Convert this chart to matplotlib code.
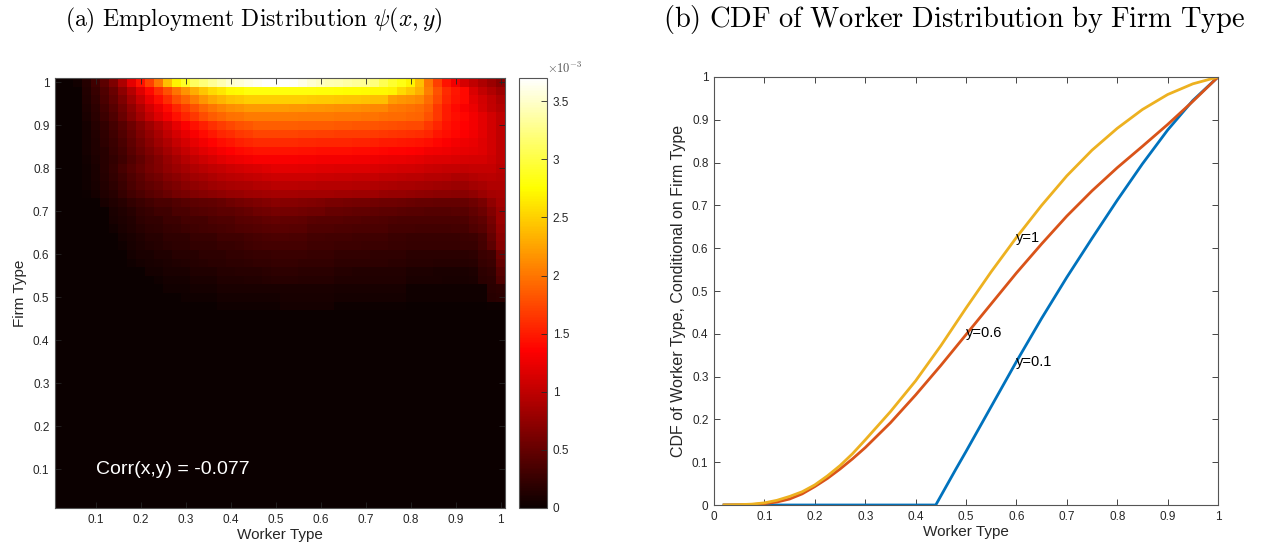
import numpy as np
import matplotlib
matplotlib.use('Agg')
import matplotlib.pyplot as plt

plt.rcParams['font.family'] = ['Liberation Sans', 'DejaVu Sans']
plt.rcParams['mathtext.fontset'] = 'cm'

# ---- panel (a): employment distribution, 50x50 grid ----
worker_type = np.round(np.arange(1, 51) * 0.02, 2)
firm_type = np.round(np.arange(1, 51) * 0.02, 2)

# psi(x,y) in units of 1e-5, rows from firm type 1.0 (top) downwards, columns worker 0.02 -> 1.0
psi_e5 = [
    [0, 0, 5, 15, 30, 45, 65, 90, 120, 145, 170, 200, 240, 270, 290, 310, 320, 330, 340, 350, 355, 360, 365, 370, 370, 370, 368, 360, 352, 346, 342, 340, 336, 332, 330, 322, 305, 292, 282, 270, 240, 200, 170, 145, 128, 112, 100, 90, 80, 70],
    [0, 0, 0, 14, 25, 39, 53, 73, 95, 118, 140, 160, 179, 199, 216, 230, 244, 255, 263, 272, 274, 280, 280, 280, 280, 280, 280, 279, 279, 278, 278, 277, 276, 275, 274, 273, 272, 270, 255, 245, 232, 205, 180, 158, 146, 140, 115, 102, 92, 82],
    [0, 0, 0, 13, 22, 35, 48, 65, 85, 105, 125, 142, 160, 178, 192, 205, 218, 228, 235, 242, 245, 250, 250, 250, 250, 250, 249, 249, 248, 247, 246, 245, 244, 243, 242, 241, 240, 222, 218, 214, 210, 195, 175, 155, 145, 140, 120, 110, 100, 90],
    [0, 0, 0, 11, 20, 31, 42, 57, 75, 92, 110, 125, 141, 156, 169, 180, 191, 200, 207, 213, 216, 220, 220, 220, 220, 220, 219, 219, 218, 217, 216, 215, 214, 213, 212, 211, 210, 202, 200, 198, 195, 185, 165, 150, 140, 132, 125, 112, 102, 95],
    [0, 0, 0, 10, 18, 28, 39, 53, 69, 85, 102, 116, 130, 144, 156, 166, 177, 185, 191, 197, 199, 203, 203, 203, 203, 203, 203, 202, 202, 201, 201, 200, 200, 200, 199, 199, 196, 195, 194, 192, 190, 180, 165, 150, 142, 138, 130, 120, 110, 100],
    [0, 0, 0, 7, 15, 22, 32, 43, 56, 69, 82, 95, 108, 122, 133, 144, 153, 161, 168, 174, 180, 183, 187, 187, 187, 187, 187, 186, 186, 185, 185, 184, 184, 183, 183, 182, 180, 178, 177, 176, 175, 165, 155, 145, 140, 135, 130, 120, 110, 100],
    [0, 0, 0, 7, 14, 21, 29, 40, 52, 64, 76, 88, 100, 112, 122, 132, 141, 148, 155, 160, 165, 169, 172, 172, 172, 172, 172, 171, 171, 170, 170, 169, 169, 168, 168, 167, 165, 164, 163, 161, 160, 155, 147, 142, 138, 133, 128, 120, 110, 100],
    [0, 0, 0, 6, 13, 19, 27, 36, 47, 58, 70, 81, 92, 103, 112, 122, 130, 136, 142, 147, 152, 155, 158, 158, 158, 158, 158, 157, 157, 156, 156, 155, 155, 154, 154, 153, 150, 149, 148, 146, 145, 142, 138, 134, 130, 127, 124, 118, 110, 100],
    [0, 0, 0, 6, 12, 17, 25, 33, 44, 54, 64, 74, 84, 94, 103, 112, 119, 125, 131, 135, 139, 142, 145, 145, 145, 145, 145, 144, 144, 143, 143, 142, 142, 141, 141, 140, 138, 137, 136, 135, 134, 130, 128, 126, 124, 122, 120, 118, 110, 100],
    [0, 0, 0, 5, 11, 16, 22, 30, 40, 49, 58, 67, 77, 86, 94, 102, 108, 114, 119, 123, 127, 129, 132, 132, 132, 132, 132, 131, 131, 130, 130, 129, 129, 128, 128, 127, 125, 124, 123, 122, 120, 118, 117, 116, 115, 113, 112, 112, 108, 100],
    [0, 0, 0, 4, 10, 17, 24, 34, 43, 52, 60, 66, 74, 80, 86, 92, 96, 101, 104, 108, 110, 113, 115, 118, 120, 120, 120, 119, 119, 118, 118, 117, 117, 116, 116, 115, 113, 112, 111, 110, 109, 106, 105, 104, 103, 102, 104, 104, 103, 98],
    [0, 0, 0, 3, 9, 15, 22, 30, 39, 46, 54, 59, 67, 72, 78, 83, 86, 91, 94, 97, 99, 102, 104, 106, 108, 108, 108, 107, 107, 106, 106, 105, 105, 104, 104, 103, 101, 100, 99, 98, 97, 95, 94, 93, 91, 90, 93, 96, 98, 95],
    [0, 0, 0, 3, 8, 14, 19, 27, 35, 42, 49, 53, 60, 65, 70, 75, 78, 81, 84, 87, 89, 91, 93, 95, 97, 97, 97, 96, 96, 95, 95, 94, 94, 93, 93, 92, 90, 89, 88, 87, 86, 84, 83, 82, 80, 80, 84, 88, 92, 92],
    [0, 0, 0, 2, 7, 12, 17, 24, 31, 37, 43, 47, 53, 58, 62, 66, 69, 72, 75, 77, 79, 81, 83, 84, 86, 86, 86, 85, 85, 84, 84, 83, 83, 82, 82, 81, 79, 78, 77, 76, 75, 73, 72, 71, 70, 70, 74, 80, 86, 88],
    [0, 0, 0, 0, 0, 8, 12, 17, 22, 27, 31, 35, 36, 40, 42, 45, 47, 49, 52, 55, 58, 62, 65, 67, 70, 69, 68, 67, 66, 65, 62, 61, 60, 59, 58, 57, 56, 55, 54, 53, 52, 51, 50, 50, 50, 51, 56, 62, 74, 84],
    [0, 0, 0, 0, 0, 0, 10, 13, 17, 22, 25, 29, 30, 35, 36, 40, 41, 42, 45, 46, 48, 52, 55, 57, 60, 59, 58, 57, 56, 55, 52, 51, 50, 49, 48, 47, 46, 45, 44, 43, 42, 41, 41, 41, 42, 43, 48, 54, 66, 80],
    [0, 0, 0, 0, 0, 0, 8, 11, 14, 19, 23, 23, 28, 28, 32, 32, 33, 37, 38, 39, 42, 44, 46, 48, 50, 49, 48, 47, 44, 43, 42, 42, 41, 41, 40, 40, 39, 37, 36, 36, 35, 35, 35, 35, 36, 37, 42, 47, 60, 80],
    [0, 0, 0, 0, 0, 0, 5, 9, 12, 16, 19, 21, 24, 26, 28, 29, 31, 33, 34, 36, 38, 40, 41, 43, 44, 44, 43, 42, 39, 38, 38, 37, 37, 36, 36, 35, 35, 33, 32, 32, 31, 31, 31, 31, 32, 33, 38, 43, 56, 76],
    [0, 0, 0, 0, 0, 0, 0, 7, 10, 13, 17, 17, 21, 21, 21, 25, 25, 25, 29, 29, 30, 33, 34, 35, 37, 37, 36, 36, 32, 32, 31, 31, 31, 30, 30, 30, 29, 27, 27, 26, 26, 26, 26, 26, 26, 27, 28, 34, 50, 72],
    [0, 0, 0, 0, 0, 0, 0, 4, 8, 11, 14, 15, 18, 19, 19, 22, 22, 23, 26, 26, 27, 30, 31, 32, 33, 33, 33, 32, 30, 29, 29, 28, 28, 28, 27, 27, 27, 25, 25, 24, 24, 24, 24, 24, 24, 25, 26, 32, 46, 68],
    [0, 0, 0, 0, 0, 0, 0, 0, 6, 9, 9, 12, 12, 16, 16, 16, 20, 20, 20, 23, 23, 24, 25, 26, 27, 27, 27, 27, 26, 26, 26, 22, 22, 22, 22, 21, 21, 21, 21, 18, 18, 18, 18, 18, 18, 18, 19, 27, 30, 55],
    [0, 0, 0, 0, 0, 0, 0, 0, 3, 7, 8, 10, 11, 13, 14, 15, 17, 18, 18, 20, 20, 21, 22, 23, 24, 24, 24, 23, 23, 23, 22, 20, 20, 19, 19, 19, 19, 18, 18, 16, 16, 16, 15, 15, 15, 15, 16, 24, 27, 50],
    [0, 0, 0, 0, 0, 0, 0, 0, 0, 0, 6, 6, 9, 9, 9, 12, 12, 12, 15, 15, 16, 17, 17, 18, 19, 19, 19, 18, 18, 18, 18, 15, 15, 14, 14, 14, 14, 14, 14, 11, 11, 11, 10, 10, 10, 10, 11, 20, 22, 42],
    [0, 0, 0, 0, 0, 0, 0, 0, 0, 0, 0, 3, 6, 7, 7, 9, 10, 10, 12, 12, 13, 14, 14, 15, 16, 16, 16, 15, 15, 15, 15, 13, 13, 12, 12, 12, 12, 12, 12, 9, 9, 9, 9, 8, 8, 8, 9, 18, 20, 38],
    [0, 0, 0, 0, 0, 0, 0, 0, 0, 0, 0, 0, 5, 5, 5, 7, 7, 7, 9, 9, 9, 9, 10, 10, 10, 10, 10, 10, 10, 10, 10, 8, 8, 8, 8, 8, 8, 8, 8, 4, 4, 4, 4, 4, 4, 4, 4, 4, 18, 20],
    [0, 0, 0, 0, 0, 0, 0, 0, 0, 0, 0, 0, 0, 0, 4, 4, 4, 4, 7, 7, 7, 7, 7, 7, 7, 8, 8, 8, 8, 8, 8, 6, 6, 6, 6, 6, 6, 6, 6, 3, 3, 3, 3, 3, 3, 3, 3, 3, 16, 18],
    [0, 0, 0, 0, 0, 0, 0, 0, 0, 0, 0, 0, 0, 0, 0, 0, 0, 0, 4, 4, 4, 4, 4, 4, 4, 6, 6, 6, 6, 6, 6, 2, 2, 2, 2, 2, 2, 2, 2, 1, 1, 1, 1, 1, 1, 1, 1, 1, 2, 2],
]
# firm types 0.46 down to 0.02 read as black (zero mass)
psi_low_e5 = [[0] * 50 for _ in range(23)]

corr_text = 'Corr(x,y) = -0.077'
cbar_ticks = [0, 0.5, 1, 1.5, 2, 2.5, 3, 3.5]

# ---- panel (b): CDF of worker type conditional on firm type ----
cdf_x = [0.02, 0.05, 0.075, 0.1, 0.125, 0.15, 0.175, 0.2, 0.225, 0.25, 0.275, 0.3,
         0.35, 0.4, 0.45, 0.5, 0.55, 0.6, 0.65, 0.7, 0.75, 0.8, 0.85, 0.9, 0.95, 1.0]
cdf_y1 = [0, 0.0008, 0.002, 0.005, 0.011, 0.02, 0.031, 0.047, 0.068, 0.092, 0.12, 0.152,
          0.218, 0.29, 0.372, 0.46, 0.545, 0.625, 0.70, 0.769, 0.829, 0.88, 0.924, 0.959, 0.984, 1.0]
cdf_y06 = [0, 0.0003, 0.001, 0.003, 0.007, 0.014, 0.026, 0.043, 0.062, 0.084, 0.108, 0.134,
           0.192, 0.257, 0.326, 0.398, 0.47, 0.542, 0.61, 0.675, 0.734, 0.788, 0.838, 0.889, 0.943, 1.0]
cdf_x01 = [0.02, 0.44, 0.46, 0.48, 0.5, 0.55, 0.6, 0.65, 0.7, 0.75, 0.8, 0.85, 0.9, 0.95, 1.0]
cdf_y01 = [0, 0, 0.042, 0.084, 0.125, 0.23, 0.335, 0.436, 0.532, 0.623, 0.712, 0.797, 0.876, 0.945, 1.0]

line_labels = [('y=1', 0.6, 0.624), ('y=0.6', 0.5, 0.402), ('y=0.1', 0.6, 0.335)]

tick_color = '#262626'
axis_color = '#555555'

W, H = 1265, 548
fig = plt.figure(figsize=(W / 100, H / 100), dpi=100)

# heatmap
ax1 = fig.add_axes([55 / W, (H - 508) / H, 450 / W, 430 / H])
psi = np.array(psi_e5 + psi_low_e5)[::-1] / 100.0  # bottom row first, units of 1e-3
mesh = ax1.pcolormesh(worker_type, firm_type, psi, cmap='hot', vmin=0, vmax=3.7,
                      shading='nearest')
ax1.set_xlim(0.01, 1.01)
ax1.set_ylim(0.01, 1.01)
ticks = [0.1, 0.2, 0.3, 0.4, 0.5, 0.6, 0.7, 0.8, 0.9, 1]
ax1.set_xticks(ticks)
ax1.set_yticks(ticks)
ax1.set_xticklabels(['%g' % t for t in ticks])
ax1.set_yticklabels(['%g' % t for t in ticks])
ax1.set_xlabel('Worker Type', fontsize=11, color=tick_color, labelpad=2)
ax1.set_ylabel('Firm Type', fontsize=11, color=tick_color, labelpad=4)
ax1.text(0.1, 0.1, corr_text, color='white', fontsize=14, va='center', ha='left')

# colorbar
cax = fig.add_axes([519 / W, (H - 508) / H, 28 / W, 430 / H])
cb = fig.colorbar(mesh, cax=cax)
cb.set_ticks(cbar_ticks)
cb.set_ticklabels(['%g' % t for t in cbar_ticks])
cb.outline.set_edgecolor(axis_color)
cb.outline.set_linewidth(0.8)
cax.tick_params(direction='in', length=4, width=0.6, labelsize=8.5,
                colors=tick_color, pad=4)
cax.text(1.0, 1.005, r'$\times10^{-3}$', transform=cax.transAxes, fontsize=9,
         color='#555555', va='bottom', ha='left')

# CDF lines
ax2 = fig.add_axes([714 / W, (H - 505) / H, 504 / W, 428 / H])
ax2.plot(cdf_x01, cdf_y01, color='#0072BD', lw=2)
ax2.plot(cdf_x, cdf_y06, color='#D95319', lw=2)
ax2.plot(cdf_x, cdf_y1, color='#EDB120', lw=2)
for txt, lx, ly in line_labels:
    ax2.text(lx, ly, txt, fontsize=10.5, va='center', ha='left')
ax2.set_xlim(0, 1)
ax2.set_ylim(0, 1)
ticks2 = [0, 0.1, 0.2, 0.3, 0.4, 0.5, 0.6, 0.7, 0.8, 0.9, 1]
ax2.set_xticks(ticks2)
ax2.set_yticks(ticks2)
ax2.set_xticklabels(['%g' % t for t in ticks2])
ax2.set_yticklabels(['%g' % t for t in ticks2])
ax2.set_xlabel('Worker Type', fontsize=11, color=tick_color, labelpad=2)
ax2.set_ylabel('CDF of Worker Type, Conditional on Firm Type', fontsize=11.5,
               color=tick_color, labelpad=4)

for ax in (ax1, ax2):
    ax.tick_params(direction='in', top=True, right=True, length=4, width=0.6,
                   labelsize=8.5, colors=tick_color, pad=4)
    for sp in ax.spines.values():
        sp.set_color(axis_color)
        sp.set_linewidth(0.8)

# subfigure captions
fig.text(254 / W, 1 - 20 / H, r'$\mathrm{(a)\ Employment\ Distribution}\ \psi(x,y)$',
         fontsize=17, ha='center', va='center')
fig.text(954 / W, 1 - 20 / H, r'$\mathrm{(b)\ CDF\ of\ Worker\ Distribution\ by\ Firm\ Type}$',
         fontsize=20.5, ha='center', va='center')

fig.savefig('out.png', dpi=100)
